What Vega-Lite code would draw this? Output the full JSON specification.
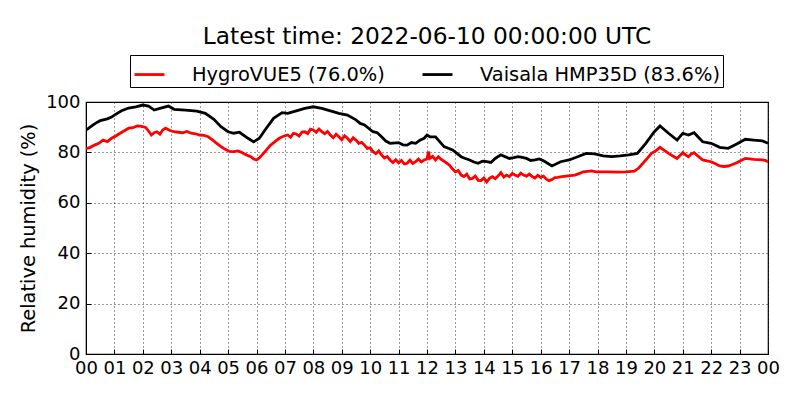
{
  "$schema": "https://vega.github.io/schema/vega-lite/v6.json",
  "width": 682,
  "height": 252,
  "autosize": {"type": "none"},
  "padding": {"left": 86, "top": 102, "right": 32, "bottom": 46},
  "title": {
    "text": "Latest time: 2022-06-10 00:00:00 UTC",
    "fontSize": 23.3,
    "fontWeight": "normal",
    "color": "black",
    "anchor": "middle",
    "offset": 5
  },
  "data": {
    "values": [
      {"s": "H", "h": 0, "rh": 81.5}, {"s": "H", "h": 0.15, "rh": 82}, {"s": "H", "h": 0.3, "rh": 82.9},
      {"s": "H", "h": 0.45, "rh": 83.6}, {"s": "H", "h": 0.6, "rh": 84.9}, {"s": "H", "h": 0.75, "rh": 84.3},
      {"s": "H", "h": 0.9, "rh": 85.6}, {"s": "H", "h": 1.05, "rh": 86.5}, {"s": "H", "h": 1.2, "rh": 87.6},
      {"s": "H", "h": 1.35, "rh": 88.6}, {"s": "H", "h": 1.5, "rh": 89.6}, {"s": "H", "h": 1.65, "rh": 89.8},
      {"s": "H", "h": 1.8, "rh": 90.5}, {"s": "H", "h": 1.95, "rh": 90.3}, {"s": "H", "h": 2.1, "rh": 89.9},
      {"s": "H", "h": 2.2, "rh": 88.5}, {"s": "H", "h": 2.3, "rh": 86.9}, {"s": "H", "h": 2.4, "rh": 87.8},
      {"s": "H", "h": 2.5, "rh": 88.2}, {"s": "H", "h": 2.6, "rh": 87.2}, {"s": "H", "h": 2.7, "rh": 88.9},
      {"s": "H", "h": 2.8, "rh": 89.6}, {"s": "H", "h": 2.95, "rh": 88.7}, {"s": "H", "h": 3.1, "rh": 88.2},
      {"s": "H", "h": 3.25, "rh": 88.0}, {"s": "H", "h": 3.4, "rh": 87.8}, {"s": "H", "h": 3.55, "rh": 88.3},
      {"s": "H", "h": 3.7, "rh": 87.6}, {"s": "H", "h": 3.85, "rh": 87.4}, {"s": "H", "h": 4.0, "rh": 86.9},
      {"s": "H", "h": 4.15, "rh": 86.8}, {"s": "H", "h": 4.3, "rh": 86.2}, {"s": "H", "h": 4.45, "rh": 85.0},
      {"s": "H", "h": 4.6, "rh": 83.6}, {"s": "H", "h": 4.75, "rh": 82.3}, {"s": "H", "h": 4.9, "rh": 81.2},
      {"s": "H", "h": 5.05, "rh": 80.4}, {"s": "H", "h": 5.2, "rh": 80.3}, {"s": "H", "h": 5.35, "rh": 80.6},
      {"s": "H", "h": 5.5, "rh": 79.9}, {"s": "H", "h": 5.65, "rh": 79.0}, {"s": "H", "h": 5.8, "rh": 78.3},
      {"s": "H", "h": 5.9, "rh": 77.4}, {"s": "H", "h": 6.0, "rh": 77.0}, {"s": "H", "h": 6.1, "rh": 77.8},
      {"s": "H", "h": 6.2, "rh": 79}, {"s": "H", "h": 6.35, "rh": 81.0}, {"s": "H", "h": 6.5, "rh": 82.9},
      {"s": "H", "h": 6.65, "rh": 84.3}, {"s": "H", "h": 6.8, "rh": 85.6}, {"s": "H", "h": 6.95, "rh": 86.4},
      {"s": "H", "h": 7.1, "rh": 86.9}, {"s": "H", "h": 7.2, "rh": 86.0}, {"s": "H", "h": 7.3, "rh": 87.6},
      {"s": "H", "h": 7.4, "rh": 87.3}, {"s": "H", "h": 7.5, "rh": 86.5}, {"s": "H", "h": 7.6, "rh": 88.1},
      {"s": "H", "h": 7.7, "rh": 88.2}, {"s": "H", "h": 7.8, "rh": 87.5}, {"s": "H", "h": 7.9, "rh": 89.2},
      {"s": "H", "h": 8.0, "rh": 88.9}, {"s": "H", "h": 8.1, "rh": 88.0}, {"s": "H", "h": 8.2, "rh": 89.3},
      {"s": "H", "h": 8.3, "rh": 88.2}, {"s": "H", "h": 8.4, "rh": 87.4}, {"s": "H", "h": 8.5, "rh": 88.3},
      {"s": "H", "h": 8.6, "rh": 86.9}, {"s": "H", "h": 8.7, "rh": 85.8}, {"s": "H", "h": 8.8, "rh": 87.2},
      {"s": "H", "h": 8.9, "rh": 86.2}, {"s": "H", "h": 9.0, "rh": 85.0}, {"s": "H", "h": 9.1, "rh": 86.6},
      {"s": "H", "h": 9.2, "rh": 85.6}, {"s": "H", "h": 9.3, "rh": 84.3}, {"s": "H", "h": 9.4, "rh": 85.8},
      {"s": "H", "h": 9.5, "rh": 84.9}, {"s": "H", "h": 9.6, "rh": 83.6}, {"s": "H", "h": 9.7, "rh": 84.0},
      {"s": "H", "h": 9.8, "rh": 82.9}, {"s": "H", "h": 9.9, "rh": 81.6}, {"s": "H", "h": 10.0, "rh": 81.8},
      {"s": "H", "h": 10.1, "rh": 80.3}, {"s": "H", "h": 10.2, "rh": 79.5}, {"s": "H", "h": 10.3, "rh": 80.6},
      {"s": "H", "h": 10.4, "rh": 79.0}, {"s": "H", "h": 10.5, "rh": 77.8}, {"s": "H", "h": 10.6, "rh": 78.4},
      {"s": "H", "h": 10.7, "rh": 77}, {"s": "H", "h": 10.8, "rh": 76.0}, {"s": "H", "h": 10.9, "rh": 77.1},
      {"s": "H", "h": 11.0, "rh": 75.9}, {"s": "H", "h": 11.1, "rh": 76.8}, {"s": "H", "h": 11.2, "rh": 75.4},
      {"s": "H", "h": 11.3, "rh": 75.7}, {"s": "H", "h": 11.4, "rh": 76.9}, {"s": "H", "h": 11.5, "rh": 75.6},
      {"s": "H", "h": 11.6, "rh": 76.3}, {"s": "H", "h": 11.7, "rh": 77.4}, {"s": "H", "h": 11.8, "rh": 76.2},
      {"s": "H", "h": 11.9, "rh": 77}, {"s": "H", "h": 12.0, "rh": 77.4}, {"s": "H", "h": 12.05, "rh": 80.3},
      {"s": "H", "h": 12.1, "rh": 77.6}, {"s": "H", "h": 12.2, "rh": 78.4}, {"s": "H", "h": 12.3, "rh": 77.0},
      {"s": "H", "h": 12.4, "rh": 78.3}, {"s": "H", "h": 12.5, "rh": 77.2}, {"s": "H", "h": 12.6, "rh": 76.5},
      {"s": "H", "h": 12.7, "rh": 75.7}, {"s": "H", "h": 12.8, "rh": 74.8}, {"s": "H", "h": 12.9, "rh": 73.4},
      {"s": "H", "h": 13.0, "rh": 72.3}, {"s": "H", "h": 13.1, "rh": 72.8}, {"s": "H", "h": 13.2, "rh": 71.0},
      {"s": "H", "h": 13.3, "rh": 70.4}, {"s": "H", "h": 13.4, "rh": 71.4}, {"s": "H", "h": 13.5, "rh": 69.5},
      {"s": "H", "h": 13.6, "rh": 69.7}, {"s": "H", "h": 13.7, "rh": 70.6}, {"s": "H", "h": 13.8, "rh": 68.9},
      {"s": "H", "h": 13.9, "rh": 68.8}, {"s": "H", "h": 14.0, "rh": 69.8}, {"s": "H", "h": 14.1, "rh": 68.3},
      {"s": "H", "h": 14.2, "rh": 69.7}, {"s": "H", "h": 14.3, "rh": 70.4}, {"s": "H", "h": 14.4, "rh": 69.6},
      {"s": "H", "h": 14.5, "rh": 70.6}, {"s": "H", "h": 14.6, "rh": 72.0}, {"s": "H", "h": 14.7, "rh": 70.2},
      {"s": "H", "h": 14.8, "rh": 71}, {"s": "H", "h": 14.9, "rh": 70.4}, {"s": "H", "h": 15.0, "rh": 71.6},
      {"s": "H", "h": 15.1, "rh": 71}, {"s": "H", "h": 15.2, "rh": 70.5}, {"s": "H", "h": 15.3, "rh": 71.8},
      {"s": "H", "h": 15.4, "rh": 71}, {"s": "H", "h": 15.5, "rh": 70.6}, {"s": "H", "h": 15.6, "rh": 71.4},
      {"s": "H", "h": 15.7, "rh": 70.4}, {"s": "H", "h": 15.8, "rh": 69.8}, {"s": "H", "h": 15.9, "rh": 70.9},
      {"s": "H", "h": 16.0, "rh": 70.1}, {"s": "H", "h": 16.1, "rh": 70.6}, {"s": "H", "h": 16.2, "rh": 69.4},
      {"s": "H", "h": 16.3, "rh": 68.8}, {"s": "H", "h": 16.4, "rh": 69.2}, {"s": "H", "h": 16.5, "rh": 70.0},
      {"s": "H", "h": 16.6, "rh": 70.1}, {"s": "H", "h": 16.75, "rh": 70.4}, {"s": "H", "h": 16.9, "rh": 70.6},
      {"s": "H", "h": 17.05, "rh": 70.8}, {"s": "H", "h": 17.2, "rh": 71}, {"s": "H", "h": 17.35, "rh": 71.6},
      {"s": "H", "h": 17.5, "rh": 72.3}, {"s": "H", "h": 17.65, "rh": 72.5}, {"s": "H", "h": 17.8, "rh": 72.7},
      {"s": "H", "h": 17.95, "rh": 72.3}, {"s": "H", "h": 18.1, "rh": 72.3}, {"s": "H", "h": 18.4, "rh": 72.3},
      {"s": "H", "h": 18.7, "rh": 72.2}, {"s": "H", "h": 19.0, "rh": 72.3}, {"s": "H", "h": 19.3, "rh": 72.6},
      {"s": "H", "h": 19.45, "rh": 73.8}, {"s": "H", "h": 19.6, "rh": 75.7}, {"s": "H", "h": 19.75, "rh": 77.6},
      {"s": "H", "h": 19.9, "rh": 79.6}, {"s": "H", "h": 20.05, "rh": 80.6}, {"s": "H", "h": 20.2, "rh": 82},
      {"s": "H", "h": 20.35, "rh": 80.8}, {"s": "H", "h": 20.5, "rh": 79.6}, {"s": "H", "h": 20.65, "rh": 78.6},
      {"s": "H", "h": 20.8, "rh": 77.6}, {"s": "H", "h": 20.9, "rh": 78.8}, {"s": "H", "h": 21.0, "rh": 79.9},
      {"s": "H", "h": 21.1, "rh": 79.0}, {"s": "H", "h": 21.2, "rh": 78.3}, {"s": "H", "h": 21.3, "rh": 79.4},
      {"s": "H", "h": 21.4, "rh": 79.9}, {"s": "H", "h": 21.55, "rh": 78.4}, {"s": "H", "h": 21.7, "rh": 77},
      {"s": "H", "h": 21.85, "rh": 76.6}, {"s": "H", "h": 22.0, "rh": 76.3}, {"s": "H", "h": 22.15, "rh": 75.5},
      {"s": "H", "h": 22.3, "rh": 74.6}, {"s": "H", "h": 22.45, "rh": 74.4}, {"s": "H", "h": 22.6, "rh": 74.6},
      {"s": "H", "h": 22.75, "rh": 75.2}, {"s": "H", "h": 22.9, "rh": 75.9}, {"s": "H", "h": 23.05, "rh": 76.8},
      {"s": "H", "h": 23.2, "rh": 77.6}, {"s": "H", "h": 23.35, "rh": 77.4}, {"s": "H", "h": 23.5, "rh": 77.2},
      {"s": "H", "h": 23.65, "rh": 77.1}, {"s": "H", "h": 23.8, "rh": 77}, {"s": "H", "h": 23.9, "rh": 76.8},
      {"s": "H", "h": 24, "rh": 76.3},
      {"s": "V", "h": 0, "rh": 88.9}, {"s": "V", "h": 0.1, "rh": 89.6}, {"s": "V", "h": 0.25, "rh": 90.9},
      {"s": "V", "h": 0.4, "rh": 92.0}, {"s": "V", "h": 0.5, "rh": 92.6}, {"s": "V", "h": 0.75, "rh": 93.3},
      {"s": "V", "h": 0.9, "rh": 94.0}, {"s": "V", "h": 1, "rh": 94.8}, {"s": "V", "h": 1.25, "rh": 96.5},
      {"s": "V", "h": 1.5, "rh": 97.6}, {"s": "V", "h": 1.75, "rh": 98.1}, {"s": "V", "h": 2, "rh": 98.8},
      {"s": "V", "h": 2.2, "rh": 98.4}, {"s": "V", "h": 2.4, "rh": 96.8}, {"s": "V", "h": 2.6, "rh": 97.5},
      {"s": "V", "h": 2.9, "rh": 98.4}, {"s": "V", "h": 3.1, "rh": 97.1}, {"s": "V", "h": 3.5, "rh": 96.8},
      {"s": "V", "h": 3.9, "rh": 96.4}, {"s": "V", "h": 4.2, "rh": 95.5}, {"s": "V", "h": 4.5, "rh": 93.1},
      {"s": "V", "h": 4.75, "rh": 90.2}, {"s": "V", "h": 5, "rh": 88.2}, {"s": "V", "h": 5.2, "rh": 87.6},
      {"s": "V", "h": 5.4, "rh": 88.0}, {"s": "V", "h": 5.7, "rh": 85.6}, {"s": "V", "h": 5.9, "rh": 84.2},
      {"s": "V", "h": 6.1, "rh": 85.6}, {"s": "V", "h": 6.3, "rh": 88.9}, {"s": "V", "h": 6.6, "rh": 93.5},
      {"s": "V", "h": 6.9, "rh": 95.8}, {"s": "V", "h": 7.1, "rh": 95.5}, {"s": "V", "h": 7.4, "rh": 96.5},
      {"s": "V", "h": 7.7, "rh": 97.5}, {"s": "V", "h": 8, "rh": 98.1}, {"s": "V", "h": 8.3, "rh": 97.5},
      {"s": "V", "h": 8.6, "rh": 96.5}, {"s": "V", "h": 8.9, "rh": 95.5}, {"s": "V", "h": 9.2, "rh": 94.8},
      {"s": "V", "h": 9.5, "rh": 92.9}, {"s": "V", "h": 9.65, "rh": 91.5}, {"s": "V", "h": 9.8, "rh": 90.9},
      {"s": "V", "h": 10.1, "rh": 88.2}, {"s": "V", "h": 10.25, "rh": 87.8}, {"s": "V", "h": 10.4, "rh": 86.2},
      {"s": "V", "h": 10.55, "rh": 84.5}, {"s": "V", "h": 10.7, "rh": 83.6}, {"s": "V", "h": 11, "rh": 83.9},
      {"s": "V", "h": 11.15, "rh": 83.0}, {"s": "V", "h": 11.3, "rh": 82.9}, {"s": "V", "h": 11.45, "rh": 83.9},
      {"s": "V", "h": 11.6, "rh": 83.6}, {"s": "V", "h": 11.75, "rh": 84.8}, {"s": "V", "h": 11.9, "rh": 85.6},
      {"s": "V", "h": 12.0, "rh": 86.9}, {"s": "V", "h": 12.1, "rh": 86.2}, {"s": "V", "h": 12.3, "rh": 86.2},
      {"s": "V", "h": 12.6, "rh": 82.3}, {"s": "V", "h": 12.9, "rh": 81}, {"s": "V", "h": 13.2, "rh": 78.3},
      {"s": "V", "h": 13.35, "rh": 77.6}, {"s": "V", "h": 13.5, "rh": 77}, {"s": "V", "h": 13.65, "rh": 76.2},
      {"s": "V", "h": 13.8, "rh": 75.7}, {"s": "V", "h": 13.95, "rh": 76.5}, {"s": "V", "h": 14.1, "rh": 76.3},
      {"s": "V", "h": 14.25, "rh": 76.0}, {"s": "V", "h": 14.4, "rh": 77.6}, {"s": "V", "h": 14.6, "rh": 79},
      {"s": "V", "h": 14.9, "rh": 77.6}, {"s": "V", "h": 15.05, "rh": 77.9}, {"s": "V", "h": 15.2, "rh": 78.3},
      {"s": "V", "h": 15.35, "rh": 78.0}, {"s": "V", "h": 15.5, "rh": 77.6}, {"s": "V", "h": 15.65, "rh": 76.8},
      {"s": "V", "h": 15.8, "rh": 77}, {"s": "V", "h": 15.95, "rh": 77.4}, {"s": "V", "h": 16.1, "rh": 76.7},
      {"s": "V", "h": 16.4, "rh": 74.6}, {"s": "V", "h": 16.7, "rh": 76.3}, {"s": "V", "h": 17.0, "rh": 77},
      {"s": "V", "h": 17.3, "rh": 78.3}, {"s": "V", "h": 17.6, "rh": 79.6}, {"s": "V", "h": 17.9, "rh": 79.4},
      {"s": "V", "h": 18.2, "rh": 78.6}, {"s": "V", "h": 18.5, "rh": 78.3}, {"s": "V", "h": 18.8, "rh": 78.6},
      {"s": "V", "h": 19.1, "rh": 79}, {"s": "V", "h": 19.4, "rh": 79.6}, {"s": "V", "h": 19.7, "rh": 83.6},
      {"s": "V", "h": 20.0, "rh": 88.2}, {"s": "V", "h": 20.2, "rh": 90.5}, {"s": "V", "h": 20.5, "rh": 87.6},
      {"s": "V", "h": 20.8, "rh": 84.9}, {"s": "V", "h": 21.0, "rh": 87.6}, {"s": "V", "h": 21.2, "rh": 86.9},
      {"s": "V", "h": 21.4, "rh": 87.8}, {"s": "V", "h": 21.7, "rh": 84.2}, {"s": "V", "h": 22.0, "rh": 83.6},
      {"s": "V", "h": 22.3, "rh": 82}, {"s": "V", "h": 22.6, "rh": 81.6}, {"s": "V", "h": 22.9, "rh": 83.3},
      {"s": "V", "h": 23.2, "rh": 85.2}, {"s": "V", "h": 23.5, "rh": 84.9}, {"s": "V", "h": 23.8, "rh": 84.6},
      {"s": "V", "h": 24, "rh": 83.6}
    ]
  },
  "mark": {"type": "line", "strokeWidth": 2.8, "clip": true},
  "encoding": {
    "x": {
      "field": "h",
      "type": "quantitative",
      "scale": {"domain": [0, 24], "nice": false},
      "axis": {
        "title": null,
        "values": [0, 1, 2, 3, 4, 5, 6, 7, 8, 9, 10, 11, 12, 13, 14, 15, 16, 17, 18, 19, 20, 21, 22, 23, 24],
        "labelExpr": "(datum.value % 24) < 10 ? '0' + (datum.value % 24) : '' + (datum.value % 24)",
        "labelFontSize": 18,
        "labelColor": "black",
        "labelPadding": 10,
        "labelFlush": false,
        "labelOverlap": false,
        "tickSize": -5,
        "tickColor": "black",
        "domainColor": "black",
        "grid": true,
        "gridColor": "black",
        "gridDash": [1, 3],
        "gridWidth": 0.8
      }
    },
    "y": {
      "field": "rh",
      "type": "quantitative",
      "scale": {"domain": [0, 100], "nice": false},
      "axis": {
        "title": "Relative humidity (%)",
        "titleFontSize": 19.4,
        "titleFontWeight": "normal",
        "titleColor": "black",
        "titlePadding": 7,
        "values": [0, 20, 40, 60, 80, 100],
        "labelFontSize": 18,
        "labelColor": "black",
        "labelPadding": 11,
        "labelFlush": false,
        "tickSize": -5,
        "tickColor": "black",
        "domainColor": "black",
        "grid": true,
        "gridColor": "black",
        "gridDash": [1, 3],
        "gridWidth": 0.8
      }
    },
    "color": {
      "field": "s",
      "type": "nominal",
      "scale": {"domain": ["H", "V"], "range": ["#ff0000", "#000000"]},
      "legend": {
        "title": null,
        "orient": "none",
        "legendX": 44,
        "legendY": -47,
        "direction": "horizontal",
        "labelExpr": "datum.label == 'H' ? 'HygroVUE5 (76.0%)' : 'Vaisala HMP35D (83.6%)'",
        "labelFontSize": 19.4,
        "labelColor": "black",
        "labelOffset": 26,
        "labelLimit": 400,
        "symbolType": "stroke",
        "symbolSize": 900,
        "symbolStrokeWidth": 2.8,
        "columnPadding": 31,
        "padding": 3,
        "strokeColor": "black",
        "fillColor": "white",
        "cornerRadius": 0
      }
    }
  },
  "config": {
    "font": "DejaVu Sans",
    "view": {"stroke": "black", "strokeWidth": 1.2}
  }
}
